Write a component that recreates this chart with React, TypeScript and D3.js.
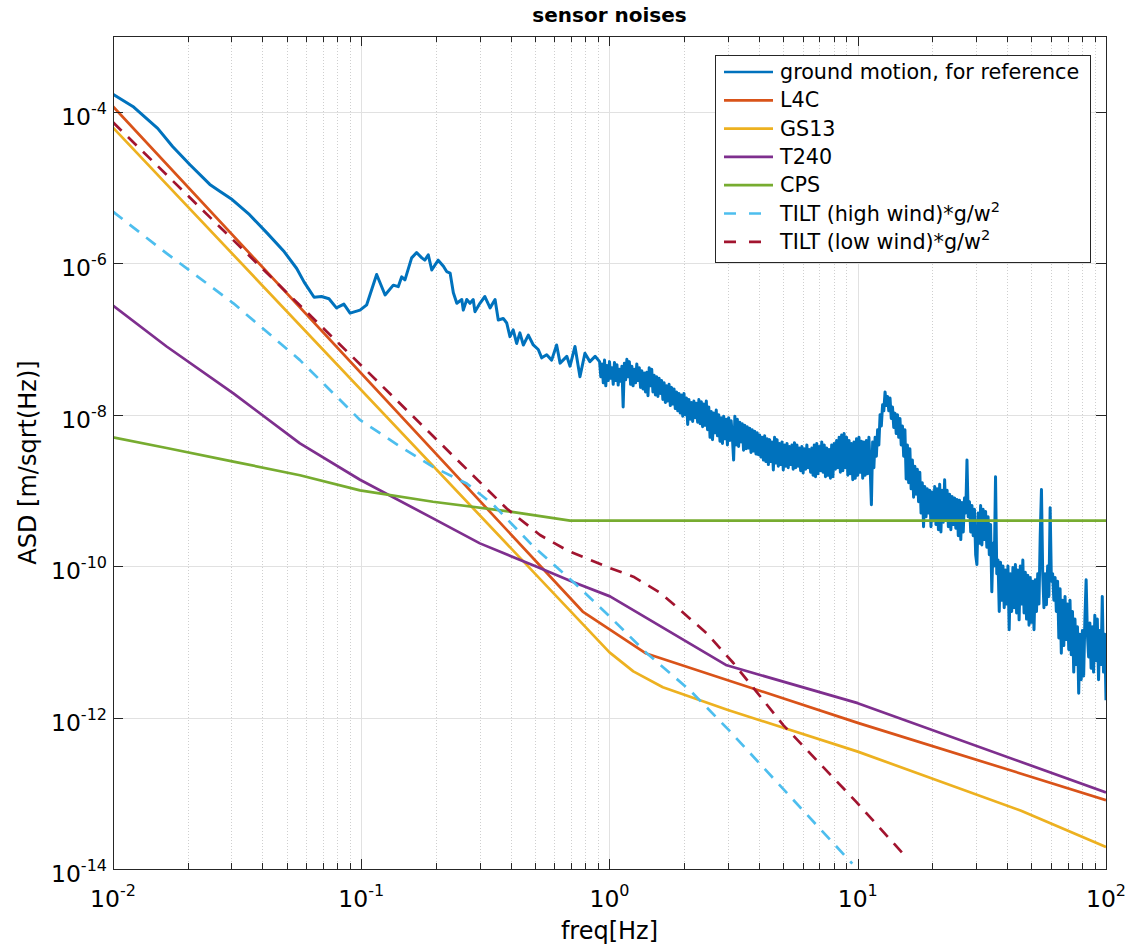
import { useEffect, useRef } from "react"
import * as d3 from "d3"

type Pt = [number, number]

// every series is [log10(freq / Hz), log10(ASD / m/sqrt(Hz))]
const groundMotion: Pt[] = [
  [-2.0, -3.77], [-1.92, -3.93], [-1.82, -4.22], [-1.76, -4.46], [-1.69, -4.7], [-1.61, -4.96],
  [-1.57, -5.05], [-1.52, -5.16], [-1.45, -5.36], [-1.38, -5.6], [-1.31, -5.85], [-1.26, -6.07],
  [-1.23, -6.25], [-1.19, -6.45], [-1.16, -6.44], [-1.13, -6.47], [-1.1, -6.59], [-1.07, -6.54],
  [-1.045, -6.66], [-1.005, -6.62], [-0.978, -6.55], [-0.938, -6.15], [-0.904, -6.42], [-0.871, -6.29],
  [-0.851, -6.31], [-0.837, -6.18], [-0.824, -6.22], [-0.797, -5.93], [-0.777, -5.86], [-0.756, -5.93],
  [-0.744, -5.96], [-0.73, -5.89], [-0.716, -6.09], [-0.69, -5.96], [-0.669, -6.04], [-0.656, -6.11],
  [-0.642, -6.13], [-0.629, -6.39], [-0.615, -6.53], [-0.595, -6.48], [-0.589, -6.62], [-0.575, -6.48],
  [-0.562, -6.53], [-0.549, -6.48], [-0.542, -6.64], [-0.522, -6.53], [-0.502, -6.44], [-0.481, -6.59],
  [-0.461, -6.48], [-0.448, -6.75], [-0.428, -6.73], [-0.414, -6.79], [-0.401, -6.97], [-0.388, -6.88],
  [-0.374, -7.06], [-0.361, -6.92], [-0.347, -7.08], [-0.327, -6.95], [-0.307, -7.08], [-0.287, -7.14],
  [-0.273, -7.25], [-0.253, -7.21], [-0.233, -7.28], [-0.213, -7.08], [-0.199, -7.32], [-0.172, -7.23],
  [-0.159, -7.36], [-0.139, -7.1], [-0.119, -7.5], [-0.099, -7.19], [-0.079, -7.3], [-0.058, -7.23],
  [-0.04, -7.3], [-0.035, -7.5], [-0.03, -7.33], [-0.025, -7.58], [-0.02, -7.28], [-0.015, -7.62],
  [-0.01, -7.35], [-0.005, -7.55], [0.0, -7.3], [0.005, -7.52], [0.01, -7.38], [0.015, -7.6],
  [0.02, -7.31], [0.025, -7.55], [0.03, -7.34], [0.035, -7.61], [0.04, -7.4], [0.045, -7.56],
  [0.05, -7.36], [0.055, -7.9], [0.06, -7.32], [0.065, -7.54], [0.07, -7.27], [0.075, -7.5],
  [0.08, -7.3], [0.085, -7.6], [0.09, -7.36], [0.095, -7.62], [0.1, -7.4], [0.105, -7.58],
  [0.11, -7.33], [0.115, -7.55], [0.12, -7.38], [0.125, -7.64], [0.13, -7.42], [0.135, -7.66],
  [0.14, -7.45], [0.145, -7.7], [0.15, -7.44], [0.155, -7.75], [0.16, -7.38], [0.165, -7.62],
  [0.17, -7.4], [0.175, -7.7], [0.18, -7.48], [0.185, -7.74], [0.19, -7.5], [0.195, -7.76],
  [0.2, -7.52], [0.205, -7.72], [0.21, -7.55], [0.215, -7.8], [0.22, -7.58], [0.225, -7.84],
  [0.23, -7.62], [0.235, -7.82], [0.24, -7.6], [0.245, -7.88], [0.25, -7.64], [0.255, -7.86],
  [0.26, -7.66], [0.265, -7.92], [0.27, -7.7], [0.275, -7.95], [0.28, -7.72], [0.285, -7.98],
  [0.29, -7.74], [0.295, -8.02], [0.3, -7.72], [0.305, -8.0], [0.31, -7.78], [0.315, -8.13],
  [0.32, -7.8], [0.325, -8.06], [0.33, -7.84], [0.335, -8.09], [0.34, -7.82], [0.345, -8.04],
  [0.35, -7.85], [0.355, -8.1], [0.36, -7.8], [0.365, -8.12], [0.37, -7.83], [0.375, -8.16],
  [0.38, -7.86], [0.385, -8.14], [0.39, -7.82], [0.395, -8.2], [0.4, -7.9], [0.405, -8.3],
  [0.41, -7.96], [0.415, -8.33], [0.42, -7.98], [0.425, -8.24], [0.43, -7.94], [0.435, -8.28],
  [0.44, -8.0], [0.445, -8.35], [0.45, -8.04], [0.455, -8.38], [0.46, -8.02], [0.465, -8.32],
  [0.47, -8.06], [0.475, -8.4], [0.48, -8.04], [0.485, -8.34], [0.49, -8.08], [0.495, -8.3],
  [0.5, -8.6], [0.505, -8.02], [0.51, -8.4], [0.515, -8.06], [0.52, -8.42], [0.525, -8.1],
  [0.53, -8.36], [0.535, -8.12], [0.54, -8.47], [0.545, -8.14], [0.55, -8.45], [0.555, -8.16],
  [0.56, -8.44], [0.565, -8.18], [0.57, -8.5], [0.575, -8.2], [0.58, -8.48], [0.585, -8.22],
  [0.59, -8.52], [0.595, -8.24], [0.6, -8.53], [0.605, -8.27], [0.61, -8.56], [0.615, -8.3],
  [0.62, -8.6], [0.625, -8.28], [0.63, -8.62], [0.635, -8.32], [0.64, -8.66], [0.645, -8.33],
  [0.65, -8.62], [0.655, -8.36], [0.66, -8.73], [0.665, -8.3], [0.67, -8.64], [0.675, -8.33],
  [0.68, -8.68], [0.685, -8.38], [0.69, -8.66], [0.695, -8.36], [0.7, -8.73], [0.705, -8.4],
  [0.71, -8.68], [0.715, -8.38], [0.72, -8.7], [0.725, -8.42], [0.73, -8.66], [0.735, -8.4],
  [0.74, -8.72], [0.745, -8.37], [0.75, -8.7], [0.755, -8.4], [0.76, -8.68], [0.765, -8.44],
  [0.77, -8.74], [0.775, -8.42], [0.78, -8.77], [0.785, -8.45], [0.79, -8.72], [0.795, -8.4],
  [0.8, -8.7], [0.805, -8.46], [0.81, -8.76], [0.815, -8.44], [0.82, -8.8], [0.825, -8.4],
  [0.83, -8.82], [0.835, -8.38], [0.84, -8.78], [0.845, -8.42], [0.85, -8.74], [0.855, -8.36],
  [0.86, -8.76], [0.865, -8.4], [0.87, -8.82], [0.875, -8.44], [0.88, -8.8], [0.885, -8.46],
  [0.89, -8.84], [0.895, -8.4], [0.9, -8.82], [0.905, -8.38], [0.91, -8.72], [0.915, -8.34],
  [0.92, -8.7], [0.925, -8.3], [0.93, -8.76], [0.935, -8.27], [0.94, -8.74], [0.945, -8.25],
  [0.95, -8.7], [0.955, -8.3], [0.96, -8.8], [0.965, -8.34], [0.97, -8.78], [0.975, -8.38],
  [0.98, -8.86], [0.985, -8.36], [0.99, -8.84], [0.995, -8.32], [1.0, -8.8], [1.005, -8.3],
  [1.01, -8.76], [1.015, -8.35], [1.02, -8.84], [1.025, -8.36], [1.03, -8.8], [1.035, -8.34],
  [1.04, -8.78], [1.045, -8.3], [1.05, -8.7], [1.055, -9.19], [1.06, -8.36], [1.065, -8.7],
  [1.07, -8.3], [1.075, -8.55], [1.08, -8.2], [1.085, -8.4], [1.09, -8.0], [1.095, -8.15],
  [1.1, -7.87], [1.105, -7.95], [1.11, -7.7], [1.115, -7.88], [1.12, -7.76], [1.125, -7.95],
  [1.13, -7.78], [1.135, -8.05], [1.14, -7.9], [1.145, -8.17], [1.15, -7.98], [1.155, -8.25],
  [1.16, -8.0], [1.165, -8.3], [1.17, -8.05], [1.175, -8.4], [1.18, -8.15], [1.185, -8.55],
  [1.19, -8.2], [1.195, -8.85], [1.2, -8.4], [1.205, -8.9], [1.21, -8.45], [1.215, -8.98],
  [1.22, -8.6], [1.225, -9.09], [1.23, -8.68], [1.235, -9.05], [1.24, -8.72], [1.245, -9.15],
  [1.25, -8.76], [1.255, -9.3], [1.26, -8.9], [1.265, -9.48], [1.27, -8.95], [1.275, -9.35],
  [1.28, -8.98], [1.285, -9.3], [1.29, -9.0], [1.295, -9.48], [1.3, -9.02], [1.305, -9.4],
  [1.31, -8.95], [1.315, -9.45], [1.32, -8.98], [1.325, -9.52], [1.33, -8.92], [1.335, -9.55],
  [1.34, -9.0], [1.345, -9.42], [1.35, -8.86], [1.355, -9.38], [1.36, -9.0], [1.365, -9.48],
  [1.37, -9.05], [1.375, -9.52], [1.38, -9.08], [1.385, -9.45], [1.39, -9.1], [1.395, -9.5],
  [1.4, -9.12], [1.405, -9.6], [1.41, -9.13], [1.415, -9.65], [1.42, -9.16], [1.425, -9.55],
  [1.43, -9.1], [1.435, -9.3], [1.44, -8.6], [1.445, -9.35], [1.45, -9.15], [1.455, -9.55],
  [1.46, -9.2], [1.465, -9.6], [1.47, -9.25], [1.475, -9.85], [1.48, -9.98], [1.485, -9.3],
  [1.49, -9.7], [1.495, -9.2], [1.5, -9.72], [1.505, -9.25], [1.51, -9.65], [1.515, -9.28],
  [1.52, -9.75], [1.525, -9.35], [1.53, -9.85], [1.535, -9.45], [1.54, -10.34], [1.545, -9.7],
  [1.55, -10.0], [1.555, -8.82], [1.56, -10.1], [1.565, -9.92], [1.57, -10.6], [1.575, -9.95],
  [1.58, -10.45], [1.585, -10.0], [1.59, -10.55], [1.595, -10.05], [1.6, -10.5], [1.605, -10.0],
  [1.61, -10.84], [1.615, -10.1], [1.62, -10.6], [1.625, -10.02], [1.63, -10.55], [1.635, -9.98],
  [1.64, -10.62], [1.645, -10.05], [1.65, -10.71], [1.655, -10.0], [1.66, -10.5], [1.665, -9.92],
  [1.67, -10.62], [1.675, -10.08], [1.68, -10.7], [1.685, -10.12], [1.69, -10.78], [1.695, -10.15],
  [1.7, -10.74], [1.705, -10.2], [1.71, -10.84], [1.715, -10.18], [1.72, -10.6], [1.725, -10.1],
  [1.73, -10.5], [1.735, -9.6], [1.74, -8.99], [1.745, -10.1], [1.75, -10.55], [1.755, -10.1],
  [1.76, -10.51], [1.765, -10.0], [1.77, -10.4], [1.775, -9.23], [1.78, -10.2], [1.785, -10.1],
  [1.79, -10.45], [1.795, -10.15], [1.8, -10.6], [1.805, -10.2], [1.81, -10.95], [1.815, -10.3],
  [1.82, -11.15], [1.825, -10.45], [1.83, -11.05], [1.835, -10.4], [1.84, -10.97], [1.845, -10.5],
  [1.85, -11.1], [1.855, -10.45], [1.86, -11.17], [1.865, -10.6], [1.87, -11.4], [1.875, -10.7],
  [1.88, -11.3], [1.885, -10.8], [1.89, -11.68], [1.895, -10.9], [1.9, -11.5], [1.905, -10.85],
  [1.91, -11.45], [1.915, -10.7], [1.92, -10.18], [1.925, -10.9], [1.93, -11.2], [1.935, -10.75],
  [1.94, -11.35], [1.945, -10.8], [1.95, -11.4], [1.955, -10.65], [1.96, -11.25], [1.965, -10.7],
  [1.97, -11.5], [1.975, -10.85], [1.98, -11.3], [1.985, -10.4], [1.99, -11.4], [1.995, -10.9],
  [2.0, -11.77],
]

const l4c: Pt[] = [[-2, -3.93], [-0.108, -10.6], [0.145, -11.15], [1.0, -12.07], [2.0, -13.09]]

const gs13: Pt[] = [
  [-2, -4.21], [0, -11.14], [0.096, -11.39], [0.215, -11.6], [0.477, -11.9],
  [1.0, -12.45], [1.658, -13.23], [2.0, -13.71],
]

const t240: Pt[] = [
  [-2, -6.56], [-1.784, -7.1], [-1.515, -7.72], [-1.247, -8.38], [-1.005, -8.86], [-0.711, -9.37],
  [-0.522, -9.7], [-0.293, -10.01], [-0.147, -10.21], [0.002, -10.4], [0.472, -11.31], [1.0, -11.81],
  [2.0, -12.99],
]

const cps: Pt[] = [
  [-2, -8.3], [-1.784, -8.44], [-1.515, -8.62], [-1.247, -8.8], [-1.005, -9.0], [-0.711, -9.15],
  [-0.4, -9.28], [-0.159, -9.4], [2.0, -9.4],
]

const tiltHigh: Pt[] = [
  [-2, -5.32], [-1.784, -5.87], [-1.515, -6.53], [-1.247, -7.28], [-1.005, -8.07], [-0.844, -8.42],
  [-0.711, -8.69], [-0.575, -8.91], [-0.468, -9.19], [-0.307, -9.74], [-0.146, -10.21], [0.002, -10.67],
  [0.15, -11.15], [0.324, -11.64], [0.479, -12.16], [0.978, -13.93],
]

const tiltLow: Pt[] = [
  [-2, -4.14], [-1, -7.35], [-0.414, -9.24], [-0.28, -9.59], [-0.172, -9.79], [-0.011, -10.01],
  [0.096, -10.14], [0.203, -10.35], [0.271, -10.54], [0.392, -10.89], [0.499, -11.28], [0.7, -12.1],
  [0.993, -13.11], [1.194, -13.84],
]

const seriesData = [groundMotion, l4c, gs13, t240, cps, tiltHigh, tiltLow]
const seriesNames = [
  "ground motion, for reference",
  "L4C",
  "GS13",
  "T240",
  "CPS",
  "TILT (high wind)*g/w",
  "TILT (low wind)*g/w",
]
const seriesSup = ["", "", "", "", "", "2", "2"]
const seriesColors = ["#0072BD", "#D95319", "#EDB120", "#7E2F8E", "#77AC30", "#4DBEEE", "#A2142F"]
const seriesDashed = [false, false, false, false, false, true, true]

const xTickExps = [-2, -1, 0, 1, 2]
const yTickExps = [-14, -12, -10, -8, -6, -4]

const width = 1130
const height = 947
const margin = { top: 36, right: 24, bottom: 78, left: 113 }
const font = "'DejaVu Sans', sans-serif"
const axisColor = "#262626"

const App = () => {
  const ref = useRef<SVGSVGElement>(null)

  useEffect(() => {
    const svg = d3.select(ref.current)
    svg.selectAll("*").remove()

    const x0 = margin.left
    const x1 = width - margin.right
    const y0 = margin.top
    const y1 = height - margin.bottom

    const x = d3.scaleLog().domain([1e-2, 1e2]).range([x0, x1])
    const y = d3.scaleLog().domain([1e-14, 1e-3]).range([y1, y0])
    const px = (v: number) => Math.round(v) + 0.5

    svg.append("rect").attr("width", width).attr("height", height).attr("fill", "#fff")
    svg
      .append("defs")
      .append("clipPath")
      .attr("id", "plot-area")
      .append("rect")
      .attr("x", x0)
      .attr("y", y0)
      .attr("width", x1 - x0)
      .attr("height", y1 - y0)

    // grid
    const minorX = d3.range(-2, 2).flatMap((e) => d3.range(2, 10).map((k) => k * 10 ** e))
    const grid = svg.append("g")
    grid
      .selectAll("line.minor")
      .data(minorX)
      .join("line")
      .attr("x1", (d) => px(x(d)))
      .attr("x2", (d) => px(x(d)))
      .attr("y1", y0)
      .attr("y2", y1)
      .attr("stroke", "#cfcfcf")
      .attr("stroke-width", 1)
      .attr("stroke-dasharray", "1,2")
    grid
      .selectAll("line.majx")
      .data(xTickExps.slice(1, -1))
      .join("line")
      .attr("x1", (d) => px(x(10 ** d)))
      .attr("x2", (d) => px(x(10 ** d)))
      .attr("y1", y0)
      .attr("y2", y1)
      .attr("stroke", "#e1e1e1")
    grid
      .selectAll("line.majy")
      .data(yTickExps.slice(1))
      .join("line")
      .attr("x1", x0)
      .attr("x2", x1)
      .attr("y1", (d) => px(y(10 ** d)))
      .attr("y2", (d) => px(y(10 ** d)))
      .attr("stroke", "#e1e1e1")

    // series
    const line = d3
      .line<Pt>()
      .x((d) => x(10 ** d[0]))
      .y((d) => y(10 ** d[1]))

    const plot = svg.append("g").attr("clip-path", "url(#plot-area)")
    seriesData.forEach((data, i) => {
      plot
        .append("path")
        .attr("d", line(data))
        .attr("fill", "none")
        .attr("stroke", seriesColors[i])
        .attr("stroke-width", i === 0 ? 3 : 2.7)
        .attr("stroke-linejoin", "round")
        .attr("stroke-dasharray", seriesDashed[i] ? "12,9" : null)
    })

    // axes box and ticks
    const axes = svg.append("g").attr("stroke", axisColor).attr("stroke-width", 1)
    axes
      .append("rect")
      .attr("x", px(x0))
      .attr("y", px(y0))
      .attr("width", Math.round(x1) - Math.round(x0))
      .attr("height", Math.round(y1) - Math.round(y0))
      .attr("fill", "none")

    const xTicks = [
      ...minorX.map((v) => ({ v, len: 6 })),
      ...xTickExps.map((e) => ({ v: 10 ** e, len: 10 })),
    ]
    xTicks.forEach((t) => {
      const xx = px(x(t.v))
      axes.append("line").attr("x1", xx).attr("x2", xx).attr("y1", y1).attr("y2", y1 - t.len)
      axes.append("line").attr("x1", xx).attr("x2", xx).attr("y1", y0).attr("y2", y0 + t.len)
    })
    yTickExps.forEach((e) => {
      const yy = px(y(10 ** e))
      axes.append("line").attr("x1", x0).attr("x2", x0 + 10).attr("y1", yy).attr("y2", yy)
      axes.append("line").attr("x1", x1).attr("x2", x1 - 10).attr("y1", yy).attr("y2", yy)
    })

    const labels = svg.append("g").attr("font-family", font).attr("fill", "#000")
    xTickExps.forEach((e) => {
      const t = labels
        .append("text")
        .attr("x", x(10 ** e))
        .attr("y", y1 + 38)
        .attr("text-anchor", "middle")
        .attr("font-size", 23.5)
      t.append("tspan").text("10")
      t.append("tspan").attr("dy", -11).attr("font-size", 16).text(String(e))
    })
    yTickExps.forEach((e) => {
      const t = labels
        .append("text")
        .attr("x", x0 - 6)
        .attr("y", y(10 ** e) + 13)
        .attr("text-anchor", "end")
        .attr("font-size", 23.5)
      t.append("tspan").text("10")
      t.append("tspan").attr("dy", -11).attr("font-size", 16).text(String(e))
    })

    labels
      .append("text")
      .attr("x", (x0 + x1) / 2)
      .attr("y", height - 8)
      .attr("text-anchor", "middle")
      .attr("font-size", 24)
      .text("freq[Hz]")
    labels
      .append("text")
      .attr("transform", `translate(36,${(y0 + y1) / 2 + 10}) rotate(-90)`)
      .attr("text-anchor", "middle")
      .attr("font-size", 24)
      .text("ASD [m/sqrt(Hz)]")
    labels
      .append("text")
      .attr("x", (x0 + x1) / 2)
      .attr("y", 22)
      .attr("text-anchor", "middle")
      .attr("font-size", 20)
      .attr("font-weight", "bold")
      .text("sensor noises")

    // legend
    const legend = svg.append("g").attr("font-family", font)
    legend
      .append("rect")
      .attr("x", 715.5)
      .attr("y", 55.5)
      .attr("width", 375)
      .attr("height", 207)
      .attr("fill", "#fff")
      .attr("stroke", axisColor)
    seriesNames.forEach((name, i) => {
      const ly = 72 + i * 28.3
      legend
        .append("line")
        .attr("x1", 724)
        .attr("x2", 773)
        .attr("y1", ly)
        .attr("y2", ly)
        .attr("stroke", seriesColors[i])
        .attr("stroke-width", 2.7)
        .attr("stroke-dasharray", seriesDashed[i] ? "12,13" : null)
      const t = legend
        .append("text")
        .attr("x", 780)
        .attr("y", ly + 7)
        .attr("font-size", 20.7)
        .attr("fill", "#000")
      t.append("tspan").text(name)
      if (seriesSup[i]) t.append("tspan").attr("dy", -9).attr("font-size", 14.5).text(seriesSup[i])
    })
  }, [])

  return (
    <div style={{ position: "absolute", left: 0, top: 0 }}>
      <svg ref={ref} width={width} height={height} style={{ display: "block" }} />
    </div>
  )
}

export default App
